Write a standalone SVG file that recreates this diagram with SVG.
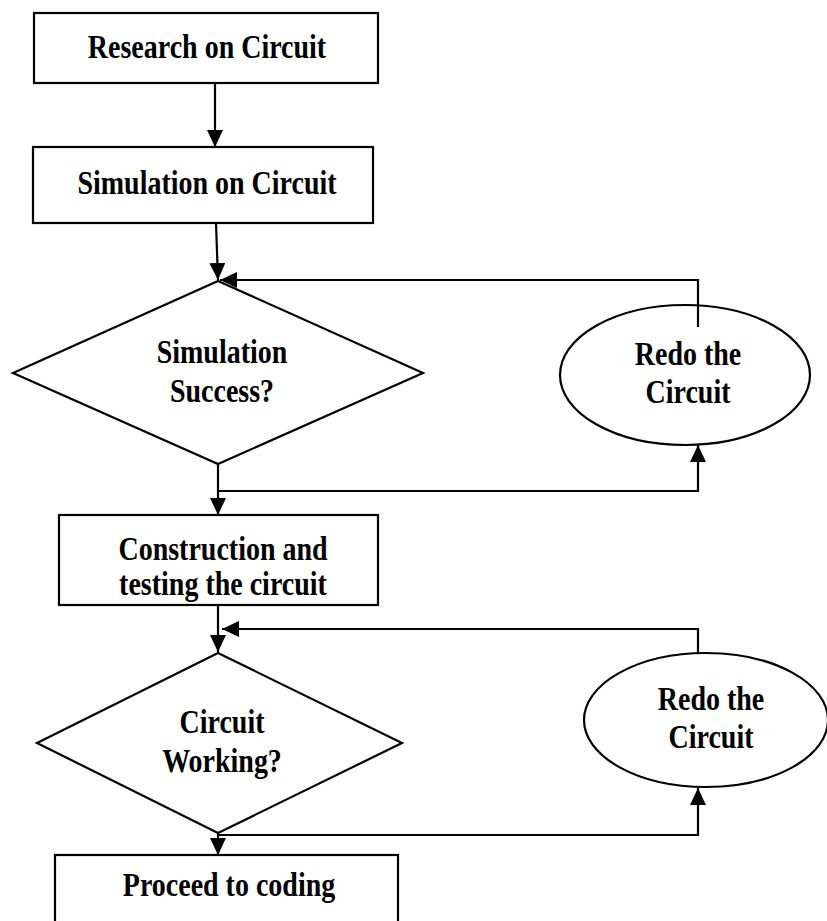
<svg xmlns="http://www.w3.org/2000/svg" width="827" height="921" viewBox="0 0 827 921">
<style>
.shape{fill:#fff;stroke:#000;stroke-width:2.2}
.conn{fill:none;stroke:#000;stroke-width:2.2}
.lbl{font-family:"Liberation Serif","Times New Roman",serif;font-weight:bold;font-size:28px;fill:#000;text-anchor:middle}
</style>
<defs>
<marker id="ah" markerUnits="userSpaceOnUse" markerWidth="17" markerHeight="16" refX="17" refY="8" orient="auto">
<path d="M0,0 L17,8 L0,16 z" fill="#000"/>
</marker>
</defs>
<rect width="827" height="921" fill="#fff"/>
<g id="connectors">
<path class="conn" d="M215,83 L215,147" marker-end="url(#ah)"/>
<path class="conn" d="M216,223 L218,280" marker-end="url(#ah)"/>
<path class="conn" d="M218,464 L218,515" marker-end="url(#ah)"/>
<path class="conn" d="M218,491 L698,491 L698,445" marker-end="url(#ah)"/>
<path class="conn" d="M218,605 L218,652" marker-end="url(#ah)"/>
<path class="conn" d="M218,833 L218,855" marker-end="url(#ah)"/>
<path class="conn" d="M218,835 L698,835 L698,788" marker-end="url(#ah)"/>
</g>
<g id="research">
<rect class="shape" x="34" y="13" width="344" height="70"/>
<text class="lbl" transform="translate(207,58) scale(1,1.2)">Research on Circuit</text>
</g>
<g id="simulation">
<rect class="shape" x="33" y="147" width="340" height="76"/>
<text class="lbl" transform="translate(207,194) scale(1,1.2)">Simulation on Circuit</text>
</g>
<g id="sim-success">
<polygon class="shape" points="218,281 423,373 218,464 13,373"/>
<text class="lbl" transform="translate(222,363) scale(1,1.2)">Simulation</text>
<text class="lbl" transform="translate(222,402) scale(1,1.2)">Success?</text>
</g>
<g id="redo1">
<ellipse class="shape" cx="685" cy="375" rx="125" ry="70"/>
<text class="lbl" transform="translate(688,365) scale(1,1.2)">Redo the</text>
<text class="lbl" transform="translate(688,403) scale(1,1.2)">Circuit</text>
</g>
<g id="construction">
<rect class="shape" x="59" y="515" width="319" height="90"/>
<text class="lbl" transform="translate(223,560) scale(1,1.2)">Construction and</text>
<text class="lbl" transform="translate(223,595) scale(1,1.2)">testing the circuit</text>
</g>
<g id="working">
<polygon class="shape" points="218,653 402,743 218,833 37,743"/>
<text class="lbl" transform="translate(222,733) scale(1,1.2)">Circuit</text>
<text class="lbl" transform="translate(222,772) scale(1,1.2)">Working?</text>
</g>
<g id="redo2">
<ellipse class="shape" cx="706" cy="720" rx="122" ry="67"/>
<text class="lbl" transform="translate(711,710) scale(1,1.2)">Redo the</text>
<text class="lbl" transform="translate(711,748) scale(1,1.2)">Circuit</text>
</g>
<g id="coding">
<rect class="shape" x="55" y="855" width="343" height="80"/>
<text class="lbl" transform="translate(229,896) scale(1,1.2)">Proceed to coding</text>
</g>
<g id="loops">
<path class="conn" d="M698,327 L698,280 L220,280" marker-end="url(#ah)"/>
<path class="conn" d="M698,653 L698,629 L222,629" marker-end="url(#ah)"/>
</g>
</svg>
